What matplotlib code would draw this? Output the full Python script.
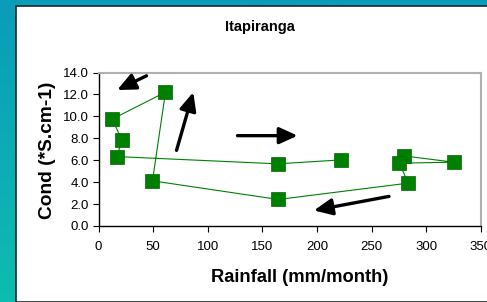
import numpy as np
import matplotlib.pyplot as plt
from matplotlib.colors import LinearSegmentedColormap
from matplotlib.patches import Rectangle

# data (monthly points in line order)
rainfall = [279.8, 325.0, 275.2, 283.5, 164.5, 49.4, 61.3, 12.8, 21.1, 17.1, 163.9, 222.1]
cond = [6.39, 5.82, 5.73, 3.91, 2.42, 4.12, 12.21, 9.76, 7.85, 6.33, 5.67, 6.03]

# arrows: (tail_x, tail_y, head_x, head_y) in data units
arrows = [
    (43.9, 13.7, 17.1, 12.4),
    (71.4, 6.9, 86.7, 12.2),
    (127.2, 8.24, 182.2, 8.24),
    (265.8, 2.70, 197.1, 1.42),
]

x_ticks = [0, 50, 100, 150, 200, 250, 300, 350]
y_ticks = [0, 2, 4, 6, 8, 10, 12, 14]

W, H = 487, 302
fig = plt.figure(figsize=(W / 100, H / 100), dpi=100)

# teal slide background
bg = fig.add_axes([0, 0, 1, 1])
cmap = LinearSegmentedColormap.from_list("teal", ["#0a9cba", "#0fbcae"])
grad = np.linspace(0, 1, 256).reshape(-1, 1)
bg.imshow(grad, aspect="auto", cmap=cmap, extent=[0, 1, 0, 1], origin="upper")
bg.add_patch(Rectangle((15.5 / W, 0), 1, 1 - 5.5 / H, facecolor="white",
                       edgecolor="#1a2a2a", linewidth=1.2))
bg.set_xlim(0, 1)
bg.set_ylim(0, 1)
bg.axis("off")

ax = fig.add_axes([98.5 / W, 1 - 226 / H, (481 - 98.5) / W, (226 - 72.5) / H])
ax.set_facecolor("white")
ax.plot(rainfall, cond, color="#008000", linewidth=0.8, marker="s",
        markersize=10, markerfacecolor="#008000", markeredgecolor="#006600",
        markeredgewidth=0.5)

for tx, ty, hx, hy in arrows:
    ax.annotate("", xy=(hx, hy), xytext=(tx, ty),
                arrowprops=dict(arrowstyle="-|>,head_length=1.1,head_width=0.5",
                                color="black", linewidth=2.4, shrinkA=0, shrinkB=0))

ax.set_xlim(0, 350)
ax.set_ylim(0, 14)
ax.set_xticks(x_ticks)
ax.set_yticks(y_ticks)
ax.set_yticklabels([f"{v:.1f}" for v in y_ticks])
ax.tick_params(labelsize=9.5, length=4, width=0.8, direction="out", pad=3)
ax.tick_params(axis="x", pad=7)
for side in ["left", "bottom"]:
    ax.spines[side].set_color("black")
    ax.spines[side].set_linewidth(1)
for side in ["top", "right"]:
    ax.spines[side].set_color("#b0b0b0")
    ax.spines[side].set_linewidth(1.5)

fig.text(260 / W, 1 - 27 / H, "Itapiranga", ha="center", va="center",
         fontsize=10.5, fontweight="bold", family="Liberation Sans")
fig.text(300 / W, 1 - 278 / H, "Rainfall (mm/month)", ha="center", va="center",
         fontsize=13.2, fontweight="bold", family="Liberation Sans")
fig.text(47 / W, 1 - 150 / H, "Cond (*S.cm-1)", ha="center", va="center",
         rotation=90, fontsize=13.8, fontweight="bold", family="Liberation Sans")
for lab in ax.get_xticklabels() + ax.get_yticklabels():
    lab.set_family("Liberation Sans")

fig.savefig("out.png", dpi=100)
